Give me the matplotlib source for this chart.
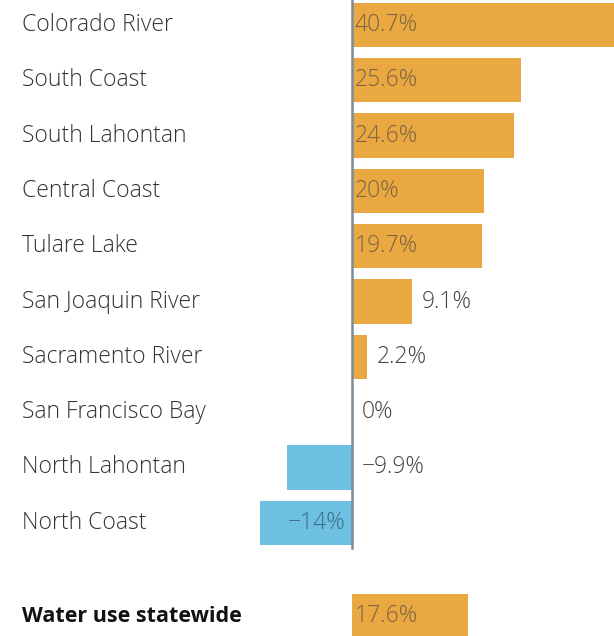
import matplotlib.pyplot as plt
from matplotlib.transforms import blended_transform_factory

# Change in water use by hydrologic region (%)
regions = ['Colorado River', 'South Coast', 'South Lahontan', 'Central Coast',
           'Tulare Lake', 'San Joaquin River', 'Sacramento River',
           'San Francisco Bay', 'North Lahontan', 'North Coast']
changes = [40.7, 25.6, 24.6, 20, 19.7, 9.1, 2.2, 0, -9.9, -14]
labels = ['40.7%', '25.6%', '24.6%', '20%', '19.7%', '9.1%', '2.2%', '0%', '\u22129.9%', '\u221214%']
statewide_name = 'Water use statewide'
statewide_value = 17.6
statewide_label = '17.6%'

orange = '#EAA843'
blue = '#6DC0E2'
px = 6.6  # pixels per percent

plt.rcParams['font.family'] = ['Open Sans', 'DejaVu Sans']
fig = plt.figure(figsize=(6.14, 6.36), dpi=100)
ax = fig.add_axes([0, 0, 1, 1])
ax.set_xlim(-352 / px, (614 - 352) / px)
ax.set_ylim((636 - 25) / 55.3, -25 / 55.3)
ax.axis('off')

ypos = list(range(len(regions)))
colors = [orange if v >= 0 else blue for v in changes]
ax.barh(ypos, changes, height=0.8, color=colors, zorder=2)

y_state = 10.69
ax.barh([y_state], [statewide_value], height=0.8, color=orange, zorder=2)

# zero line
ax.plot([0, 0], [-0.5, 9.45], color='#7d8c9a', lw=1.8, zorder=3)

fs = 16.5
tr = blended_transform_factory(ax.transAxes, ax.transData)
for y, name in zip(ypos, regions):
    ax.text(22 / 614, y, name, transform=tr, ha='left', va='center',
            fontsize=fs, color='#333333', fontweight='light')
ax.text(22 / 614, y_state, statewide_name, transform=tr, ha='left', va='center',
        fontsize=15.5, color='#111111', fontweight='bold')

off = 10 / px
for y, v, lab in zip(ypos, changes, labels):
    if v >= 15:
        ax.text(0.4, y, lab, ha='left', va='center', fontsize=fs, color='#7a6440',
                fontweight='light', zorder=4)
    elif v <= -12:
        ax.text(-1.0, y, lab, ha='right', va='center', fontsize=fs, color='#3d6c84',
                fontweight='light', zorder=4)
    elif v >= 0:
        ax.text(v + off, y, lab, ha='left', va='center', fontsize=fs, color='#444444',
                fontweight='light')
    else:
        ax.text(off, y, lab, ha='left', va='center', fontsize=fs, color='#444444',
                fontweight='light')
ax.text(0.4, y_state, statewide_label, ha='left', va='center', fontsize=fs,
        color='#7a6440', fontweight='light', zorder=4)

fig.savefig('out.png', dpi=100)
